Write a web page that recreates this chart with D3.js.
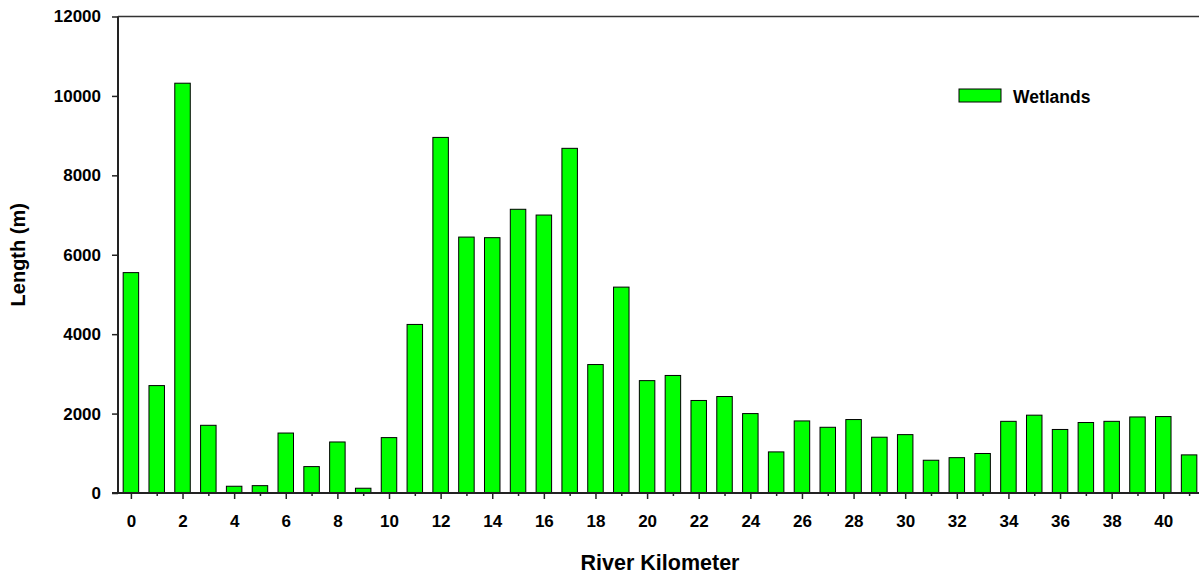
<!DOCTYPE html>
<html>
<head>
<meta charset="utf-8">
<script src="https://cdn.jsdelivr.net/npm/d3@7"></script>
<style>
  body { margin: 0; background: #fff; }
  text { font-family: "Liberation Sans", Arial, sans-serif; font-weight: bold; fill: #000; }
</style>
</head>
<body>
<div id="chart"></div>
<script>
// river kilometer of each bar
var riverKm = d3.range(0, 42);
// wetland length (m) per kilometer
var wetlands = [5550, 2705, 10320, 1705, 170, 185, 1510, 665, 1285, 120,
                1395, 4245, 8955, 6445, 6430, 7145, 7000, 8680, 3235, 5185,
                2830, 2960, 2330, 2430, 2000, 1035, 1815, 1655, 1850, 1405,
                1470, 825, 890, 995, 1805, 1960, 1600, 1775, 1805, 1915,
                1925, 960];
var xTickValues = d3.range(0, 41, 2);
var xMinorValues = d3.range(1, 42, 2);
var yTickValues = [0, 2000, 4000, 6000, 8000, 10000, 12000];
var seriesName = "Wetlands";

var W = 1199, H = 575;
var margin = { top: 16.5, right: -3, bottom: 82, left: 118 };
var width = W - margin.left - margin.right;
var height = H - margin.top - margin.bottom;

var svg = d3.select("#chart").append("svg")
    .attr("width", W)
    .attr("height", H);

var g = svg.append("g")
    .attr("transform", "translate(" + margin.left + "," + margin.top + ")");

var x = d3.scaleLinear().domain([-0.5, 41.5]).range([0, width]);
var y = d3.scaleLinear().domain([0, 12000]).range([height, 0]);
var barW = x(0.6) - x(0);

// bars
g.selectAll(".bar")
    .data(wetlands)
    .enter().append("rect")
    .attr("class", "bar")
    .attr("x", function(d, i) { return x(riverKm[i]) - barW / 2; })
    .attr("y", function(d) { return y(d); })
    .attr("width", barW)
    .attr("height", function(d) { return height - y(d); })
    .style("fill", "#00ff00")
    .style("stroke", "#000")
    .style("stroke-width", 1);

// axes
var yAxis = d3.axisLeft(y).tickValues(yTickValues).tickSize(6).tickPadding(11).tickFormat(d3.format("d"));
var xAxis = d3.axisBottom(x).tickValues(xTickValues).tickSize(6).tickPadding(16).tickFormat(d3.format("d"));
var xMinor = d3.axisBottom(x).tickValues(xMinorValues).tickSize(3).tickFormat("");

var ya = g.append("g").attr("class", "y-axis").call(yAxis);
var xa = g.append("g").attr("class", "x-axis")
    .attr("transform", "translate(0," + height + ")").call(xAxis);
g.append("g").attr("transform", "translate(0," + height + ")").call(xMinor)
    .select(".domain").remove();

[ya, xa].forEach(function(a) {
    a.select(".domain").attr("stroke", "#222").attr("stroke-width", 2);
    a.selectAll("text").style("font-size", "17px");
});
g.selectAll(".tick line").attr("stroke", "#222").attr("stroke-width", 1.5);
ya.select(".domain").attr("d", "M0," + height + "V0");
xa.select(".domain").attr("d", "M-6,0H" + width);

// top frame line
g.append("line")
    .attr("x1", 0).attr("x2", width)
    .attr("y1", 0).attr("y2", 0)
    .attr("stroke", "#333").attr("stroke-width", 1.5);

// axis titles
svg.append("text")
    .attr("transform", "translate(25," + (margin.top + height / 2) + ") rotate(-90)")
    .attr("text-anchor", "middle")
    .style("font-size", "20px")
    .text("Length (m)");

svg.append("text")
    .attr("x", margin.left + width / 2)
    .attr("y", 570)
    .attr("text-anchor", "middle")
    .style("font-size", "21.5px")
    .text("River Kilometer");

// legend
var legend = svg.append("g").attr("transform", "translate(959,89)");
legend.append("rect")
    .attr("width", 42).attr("height", 13)
    .style("fill", "#00ff00").style("stroke", "#000").style("stroke-width", 1);
legend.append("text")
    .attr("x", 54).attr("y", 13.5)
    .style("font-size", "17.5px")
    .text(seriesName);
</script>
</body>
</html>
